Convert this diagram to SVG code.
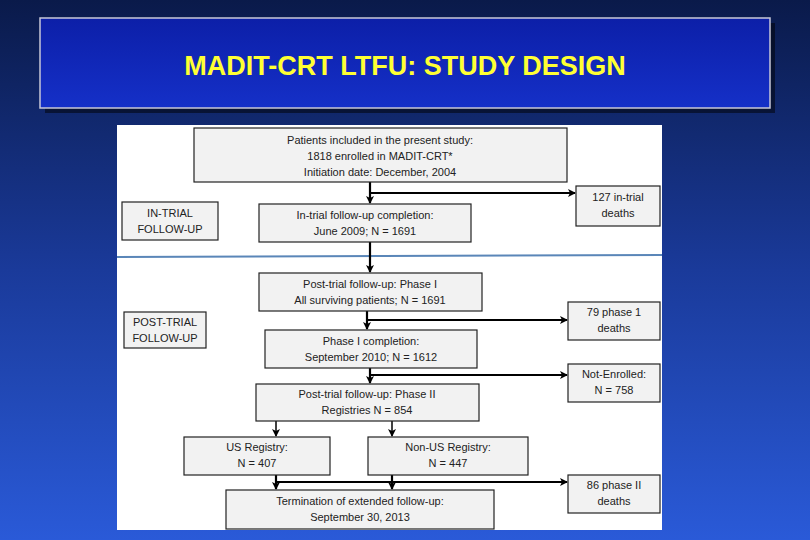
<svg xmlns="http://www.w3.org/2000/svg" width="810" height="540" viewBox="0 0 810 540">
<defs>
<linearGradient id="bg" x1="0" y1="0" x2="0" y2="1">
<stop offset="0" stop-color="#0a1a4a"/><stop offset="0.5" stop-color="#1a3a9a"/><stop offset="1" stop-color="#2a5ad8"/>
</linearGradient>
<linearGradient id="tb" x1="0" y1="0" x2="0" y2="1">
<stop offset="0" stop-color="#0c1fa8"/><stop offset="1" stop-color="#1530c8"/>
</linearGradient>
<marker id="ah" markerWidth="8" markerHeight="8" refX="7" refY="4" orient="auto" markerUnits="userSpaceOnUse">
<path d="M0,0 L8,4 L0,8 L2,4 z" fill="#000"/>
</marker>
</defs>
<style>
.b{fill:#f2f2f2;stroke:#222;stroke-width:1.2}
.t{font-family:"Liberation Sans",Arial,sans-serif;font-size:11px;fill:#222;text-anchor:middle}
.c line,.c path{stroke:#000;stroke-width:2.2;fill:none}
</style>
<rect width="810" height="540" fill="url(#bg)"/>
<g id="title">
<rect x="45" y="23" width="730" height="90" fill="#000" opacity="0.5"/>
<rect x="40" y="18" width="730" height="90" fill="url(#tb)" stroke="#c8c8d8" stroke-width="1.5"/>
<text x="405" y="75" font-family="Liberation Sans,Arial,sans-serif" font-size="27" font-weight="bold" fill="#ffff33" text-anchor="middle">MADIT-CRT LTFU: STUDY DESIGN</text>
</g>
<rect x="117" y="125" width="545" height="405" fill="#fff"/>
<line x1="117" y1="257" x2="662" y2="255" stroke="#5a86b8" stroke-width="2"/>
<g class="c">
<line x1="370" y1="182" x2="370" y2="203" marker-end="url(#ah)"/>
<line x1="370" y1="193" x2="575" y2="193" marker-end="url(#ah)"/>
<line x1="370" y1="242" x2="370" y2="272" marker-end="url(#ah)"/>
<line x1="367" y1="311" x2="367" y2="329" marker-end="url(#ah)"/>
<line x1="367" y1="320" x2="567" y2="320" marker-end="url(#ah)"/>
<line x1="370" y1="368" x2="370" y2="383" marker-end="url(#ah)"/>
<line x1="370" y1="375" x2="567" y2="375" marker-end="url(#ah)"/>
<line x1="276" y1="421" x2="276" y2="436" marker-end="url(#ah)" style="stroke-width:1.5"/>
<line x1="392" y1="421" x2="392" y2="436" marker-end="url(#ah)" style="stroke-width:1.5"/>
<line x1="276" y1="475" x2="276" y2="489" marker-end="url(#ah)"/>
<line x1="392" y1="475" x2="392" y2="489" marker-end="url(#ah)"/>
<line x1="276" y1="482" x2="567" y2="482" marker-end="url(#ah)"/>
</g>
<g id="n1"><rect class="b" x="194" y="128" width="373" height="54"/>
<text class="t" x="380" y="144">Patients included in the present study:</text>
<text class="t" x="380" y="160">1818 enrolled in MADIT-CRT*</text>
<text class="t" x="380" y="176">Initiation date: December, 2004</text></g>
<g id="n2"><rect class="b" x="576" y="186" width="84" height="40"/>
<text class="t" x="618" y="201">127 in-trial</text><text class="t" x="618" y="217">deaths</text></g>
<g id="n3"><rect class="b" x="122" y="202" width="96" height="38"/>
<text class="t" x="170" y="217">IN-TRIAL</text><text class="t" x="170" y="233">FOLLOW-UP</text></g>
<g id="n4"><rect class="b" x="259" y="204" width="212" height="38"/>
<text class="t" x="365" y="219">In-trial follow-up completion:</text><text class="t" x="365" y="235">June 2009; N = 1691</text></g>
<g id="n5"><rect class="b" x="259" y="273" width="223" height="38"/>
<text class="t" x="370" y="288">Post-trial follow-up: Phase I</text><text class="t" x="370" y="304">All surviving patients; N = 1691</text></g>
<g id="n6"><rect class="b" x="568" y="302" width="92" height="38"/>
<text class="t" x="614" y="316">79 phase 1</text><text class="t" x="614" y="332">deaths</text></g>
<g id="n7"><rect class="b" x="124" y="312" width="82" height="36"/>
<text class="t" x="165" y="326">POST-TRIAL</text><text class="t" x="165" y="342">FOLLOW-UP</text></g>
<g id="n8"><rect class="b" x="265" y="330" width="212" height="38"/>
<text class="t" x="371" y="345">Phase I completion:</text><text class="t" x="371" y="361">September 2010; N = 1612</text></g>
<g id="n9"><rect class="b" x="568" y="364" width="92" height="38"/>
<text class="t" x="614" y="378">Not-Enrolled:</text><text class="t" x="614" y="394">N = 758</text></g>
<g id="n10"><rect class="b" x="256" y="384" width="223" height="37"/>
<text class="t" x="367" y="398">Post-trial follow-up: Phase II</text><text class="t" x="367" y="414">Registries N = 854</text></g>
<g id="n11"><rect class="b" x="184" y="437" width="146" height="38"/>
<text class="t" x="257" y="451">US Registry:</text><text class="t" x="257" y="467">N = 407</text></g>
<g id="n12"><rect class="b" x="368" y="437" width="160" height="38"/>
<text class="t" x="448" y="451">Non-US Registry:</text><text class="t" x="448" y="467">N = 447</text></g>
<g id="n13"><rect class="b" x="568" y="475" width="92" height="38"/>
<text class="t" x="614" y="489">86 phase II</text><text class="t" x="614" y="505">deaths</text></g>
<g id="n14"><rect class="b" x="226" y="490" width="268" height="39"/>
<text class="t" x="360" y="505">Termination of extended follow-up:</text><text class="t" x="360" y="521">September 30, 2013</text></g>
</svg>
